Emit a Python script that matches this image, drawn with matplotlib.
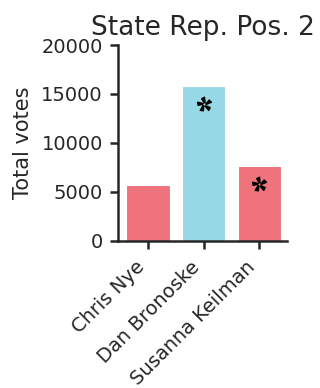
import numpy as np
import matplotlib
matplotlib.use("Agg")
import matplotlib.pyplot as plt
from matplotlib.path import Path
from matplotlib.transforms import offset_copy

candidates = ["Chris Nye", "Dan Bronoske", "Susanna Keilman"]
votes = [5700, 15800, 7620]
party_colors = ["#EE737A", "#97D8E6", "#EE737A"]
starred = [False, True, True]
title = "State Rep. Pos. 2"
ylabel = "Total votes"
yticks = [0, 5000, 10000, 15000, 20000]

ink = "#262626"
plt.rcParams["font.family"] = ["DejaVu Sans"]
plt.rcParams["text.color"] = ink
plt.rcParams["axes.labelcolor"] = ink
plt.rcParams["xtick.color"] = ink
plt.rcParams["ytick.color"] = ink


def pinwheel_marker(n_blades=5):
    """Closed-blade pinwheel used to flag a candidate."""
    verts, codes = [], []
    for k in range(n_blades):
        a = np.deg2rad(90 + 360.0 / n_blades * k)
        pts = [(0.22, a - np.deg2rad(20)),
               (1.0, a),
               (0.88, a + np.deg2rad(26)),
               (0.34, a + np.deg2rad(16))]
        xy = [(r * np.cos(t), r * np.sin(t)) for r, t in pts]
        verts += xy + [xy[0]]
        codes += [Path.MOVETO] + [Path.LINETO] * (len(xy) - 1) + [Path.CLOSEPOLY]
    return Path(verts, codes)


fig = plt.figure(figsize=(3.2, 3.88), dpi=100)
ax = fig.add_axes([0.369, 0.379, 0.528, 0.505])

x = np.arange(len(candidates))
ax.bar(x, votes, width=0.78, color=party_colors, edgecolor="#FFFFFF",
       linewidth=0.8, zorder=2)

marker = pinwheel_marker()
below = offset_copy(ax.transData, fig=fig, x=0, y=-13, units="points")
for xi, v, s in zip(x, votes, starred):
    if s:
        ax.plot(xi, v, marker=marker, markersize=10.5, color="black",
                linestyle="none", transform=below, zorder=3)

ax.set_xlim(-0.54, 2.5)
ax.set_ylim(0, 20000)
ax.set_yticks(yticks)
ax.set_xticks(x)
ax.set_xticklabels(candidates, rotation=45, ha="right")
ax.tick_params(axis="both", labelsize=14, length=6, width=1.8, direction="out",
               pad=5)
ax.tick_params(axis="x", pad=6)
ax.set_ylabel(ylabel, fontsize=15, labelpad=6)
ax.set_title(title, fontsize=19, pad=7)

for side in ("top", "right"):
    ax.spines[side].set_visible(False)
for side in ("left", "bottom"):
    ax.spines[side].set_linewidth(1.8)
    ax.spines[side].set_color(ink)

fig.savefig("out.png", dpi=100)
